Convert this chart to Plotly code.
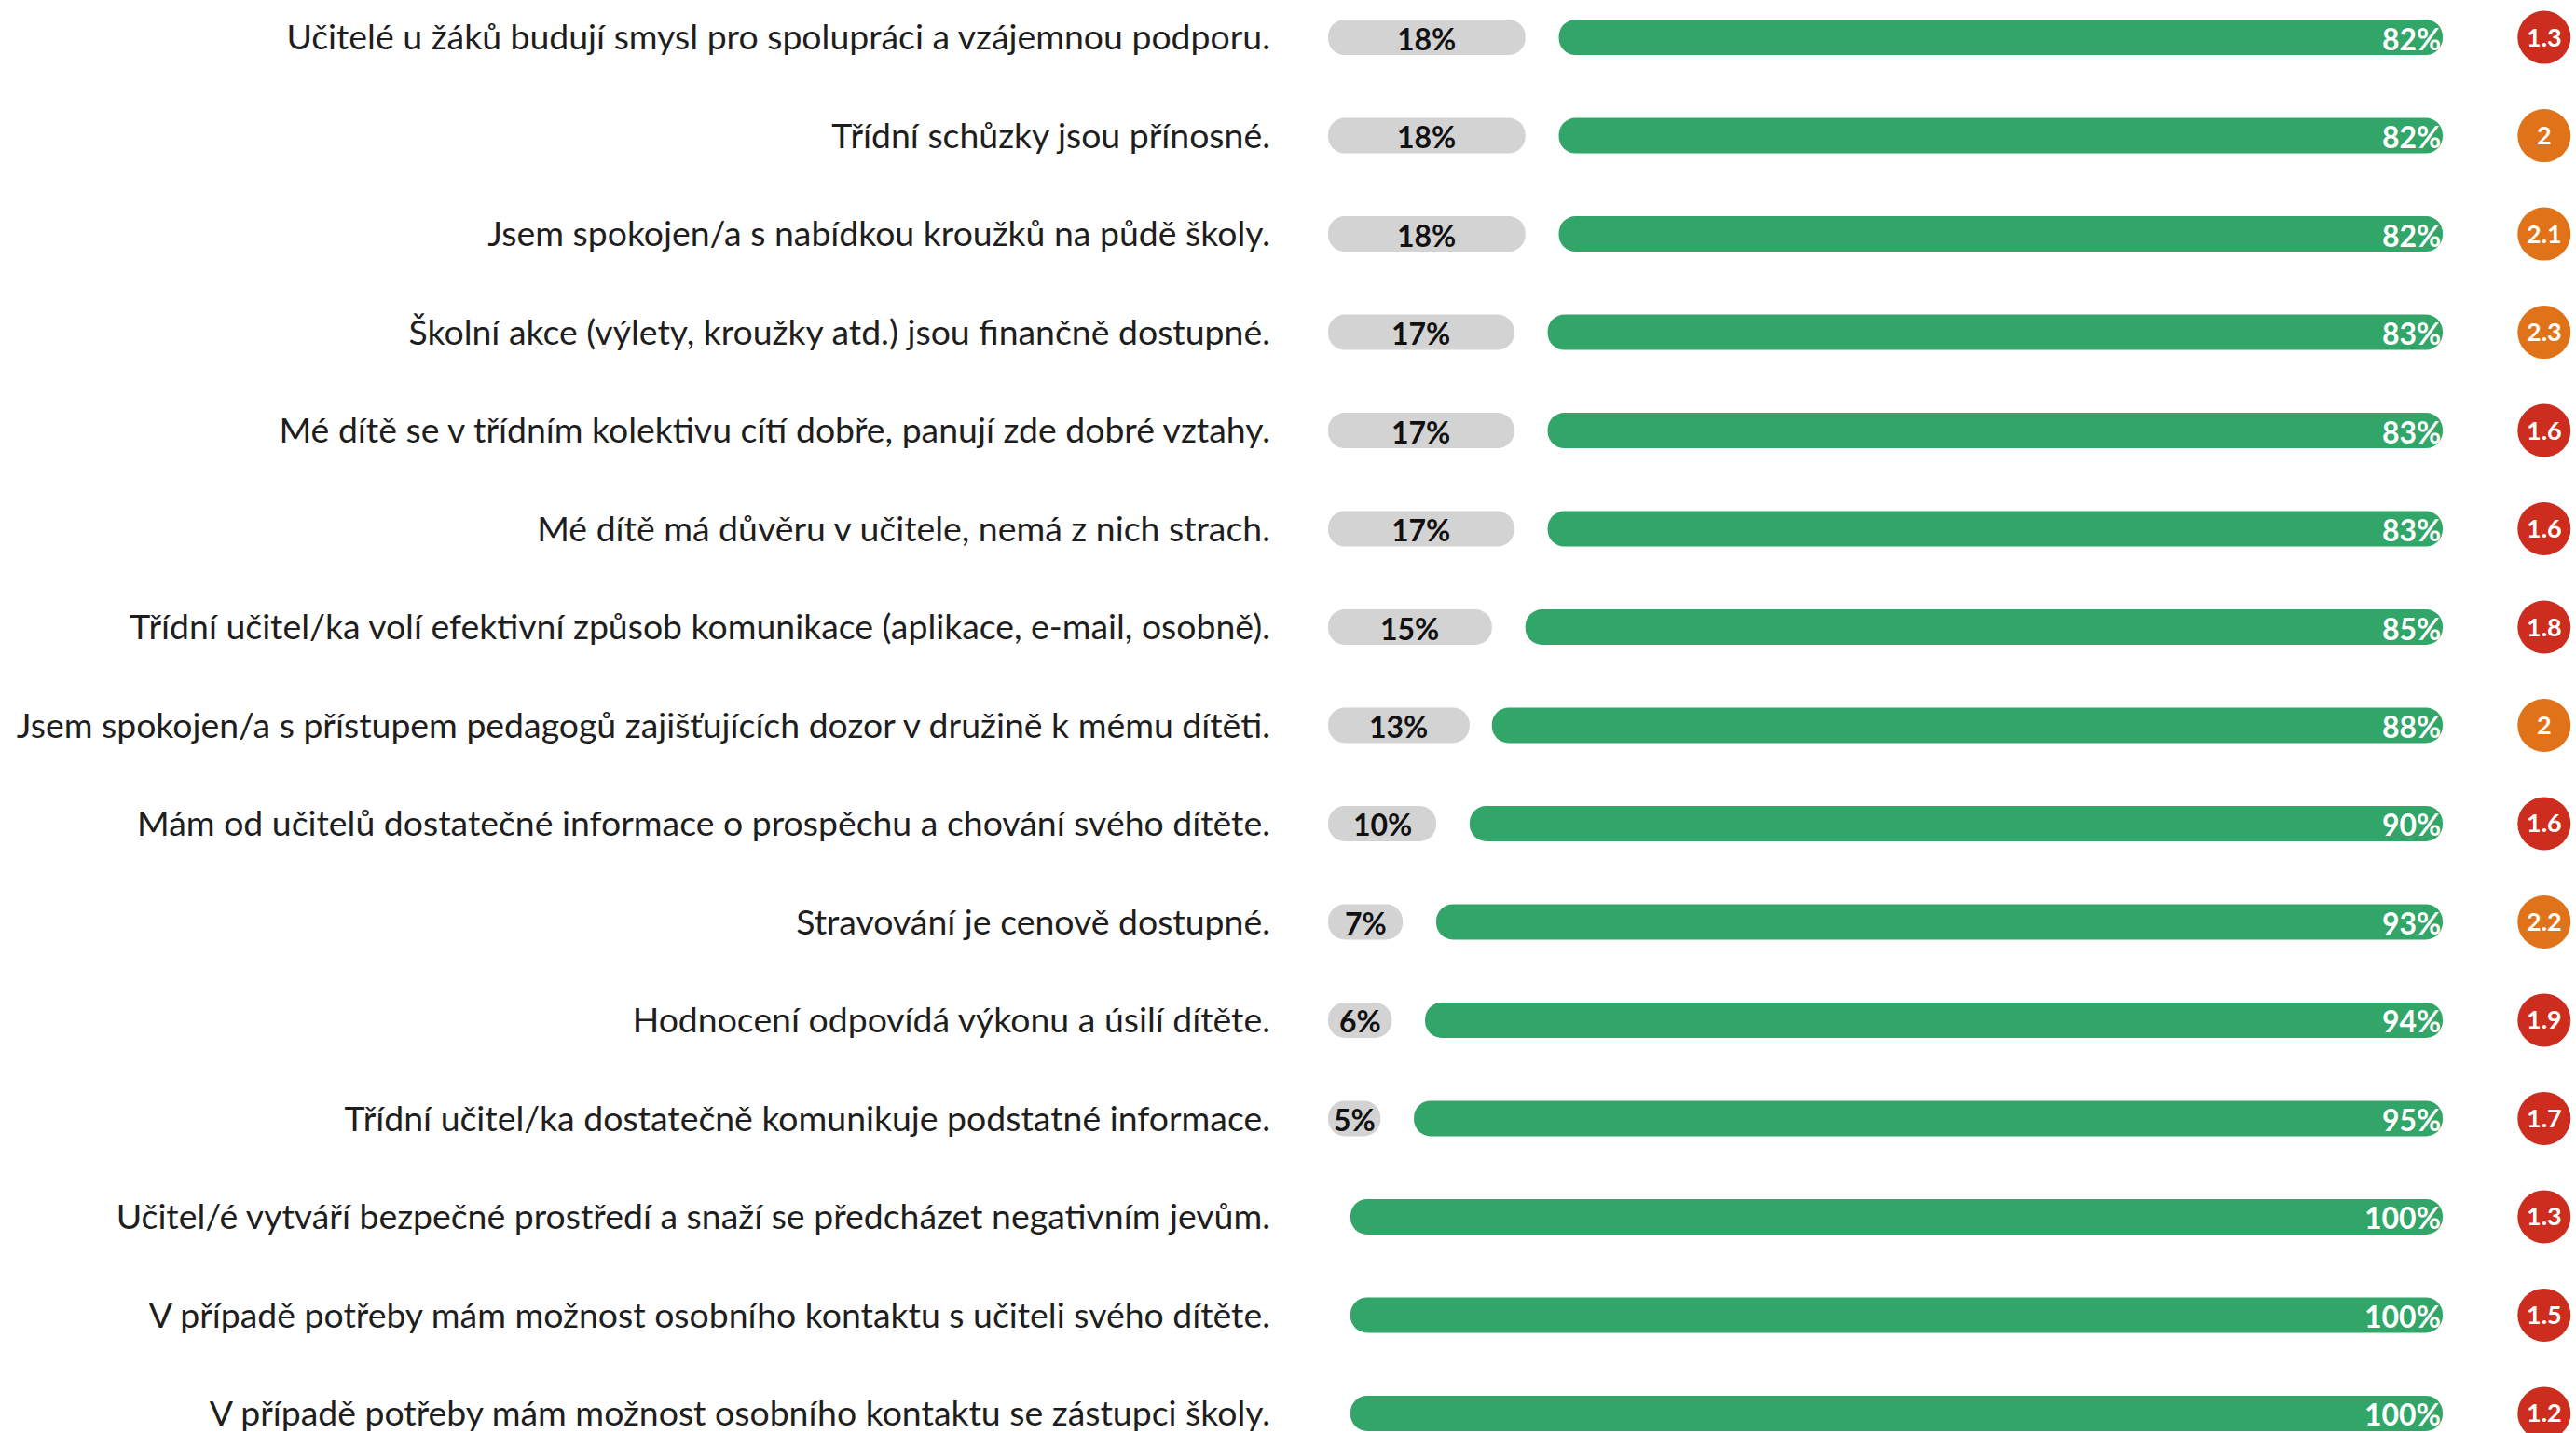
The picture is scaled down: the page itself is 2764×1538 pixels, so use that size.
import plotly.graph_objects as go

# Survey statements (top to bottom)
statements = [
    "Učitelé u žáků budují smysl pro spolupráci a vzájemnou podporu.",
    "Třídní schůzky jsou přínosné.",
    "Jsem spokojen/a s nabídkou kroužků na půdě školy.",
    "Školní akce (výlety, kroužky atd.) jsou finančně dostupné.",
    "Mé dítě se v třídním kolektivu cítí dobře, panují zde dobré vztahy.",
    "Mé dítě má důvěru v učitele, nemá z nich strach.",
    "Třídní učitel/ka volí efektivní způsob komunikace (aplikace, e-mail, osobně).",
    "Jsem spokojen/a s přístupem pedagogů zajišťujících dozor v družině k mému dítěti.",
    "Mám od učitelů dostatečné informace o prospěchu a chování svého dítěte.",
    "Stravování je cenově dostupné.",
    "Hodnocení odpovídá výkonu a úsilí dítěte.",
    "Třídní učitel/ka dostatečně komunikuje podstatné informace.",
    "Učitel/é vytváří bezpečné prostředí a snaží se předcházet negativním jevům.",
    "V případě potřeby mám možnost osobního kontaktu s učiteli svého dítěte.",
    "V případě potřeby mám možnost osobního kontaktu se zástupci školy.",
]

# Share of negative answers (%)
disagree = [18, 18, 18, 17, 17, 17, 15, 13, 10, 7, 6, 5, 0, 0, 0]
# Share of positive answers (%)
agree = [82, 82, 82, 83, 83, 83, 85, 88, 90, 93, 94, 95, 100, 100, 100]
# Average score
scores = [1.3, 2, 2.1, 2.3, 1.6, 1.6, 1.8, 2, 1.6, 2.2, 1.9, 1.7, 1.3, 1.5, 1.2]

GREEN = "#32A568"
GREY = "#D3D3D3"
RED = "#CD2D1E"
ORANGE = "#E0731A"
FONT = "Lato"

BAR_W = 0.36          # bar thickness in category units
RADIUS = 19           # px, half the bar thickness -> pill ends
GAP_L = 0.3           # small inset at the end of the grey pill
GAP_R = 2.7           # where the green pill starts after the grey one
SCORE_X = 109.1       # column for score badges
TEXT_SHIFT = -1       # px, nudges labels onto the bar centre line

fig = go.Figure()


def add_pill(y, start, end, color):
    """Draw a pill-shaped bar from start to end."""
    fig.add_trace(go.Bar(
        y=y, x=[b - a for a, b in zip(start, end)], base=start,
        orientation="h", width=BAR_W,
        marker=dict(color=color, cornerradius=RADIUS, line=dict(width=0)),
        hoverinfo="skip", showlegend=False,
    ))


# Grey pills (negative share), only where the share is non-zero
g_rows = [i for i, g in enumerate(disagree) if g > 0]
g_y = [statements[i] for i in g_rows]
g_start = [0 for _ in g_rows]
g_end = [disagree[i] - GAP_L for i in g_rows]
add_pill(g_y, g_start, g_end, GREY)

# Green pills (positive share), ending at 100 %
a_start = [100 - a + (GAP_R if 100 - a > 0 else 2.0) for a in agree]
a_end = [100 for _ in agree]
add_pill(statements, a_start, a_end, GREEN)

# Score badges
fig.add_trace(go.Scatter(
    y=statements, x=[SCORE_X] * len(scores),
    mode="markers",
    marker=dict(size=57, color=[ORANGE if s >= 2 else RED for s in scores],
                line=dict(width=0)),
    hoverinfo="skip", showlegend=False,
))

annotations = []
# Labels inside the grey pills
for k, i in enumerate(g_rows):
    annotations.append(dict(
        x=(g_start[k] + g_end[k]) / 2, y=statements[i], xref="x", yref="y",
        text=f"<b>{disagree[i]}%</b>", showarrow=False,
        xanchor="center", yanchor="middle", yshift=TEXT_SHIFT,
        font=dict(family=FONT, size=32, color="#111111"),
    ))
# Labels at the right end of the green pills
for i, a in enumerate(agree):
    annotations.append(dict(
        x=a_end[i], y=statements[i], xref="x", yref="y",
        text=f"<b>{a}%</b>", showarrow=False,
        xanchor="right", yanchor="middle", yshift=TEXT_SHIFT,
        font=dict(family=FONT, size=32, color="white"),
    ))
# Score values on the badges
for i, s in enumerate(scores):
    annotations.append(dict(
        x=SCORE_X, y=statements[i], xref="x", yref="y",
        text=f"<b>{s:g}</b>", showarrow=False,
        xanchor="center", yanchor="middle", yshift=1,
        font=dict(family=FONT, size=27, color="white"),
    ))

fig.update_layout(
    width=2764, height=1538,
    margin=dict(l=1400, r=0, t=0, b=0),
    barmode="overlay",
    plot_bgcolor="white", paper_bgcolor="white",
    font=dict(family=FONT),
    annotations=annotations,
    xaxis=dict(range=[-2.09, 111.96], visible=False, fixedrange=True),
    yaxis=dict(
        categoryorder="array", categoryarray=statements,
        range=[14.2, -0.38],
        showgrid=False, zeroline=False, showline=False, ticks="",
        ticklabelstandoff=36,
        tickfont=dict(family=FONT, size=37.4, color="#1E1E1E"),
    ),
)

fig.write_html("out.html")
